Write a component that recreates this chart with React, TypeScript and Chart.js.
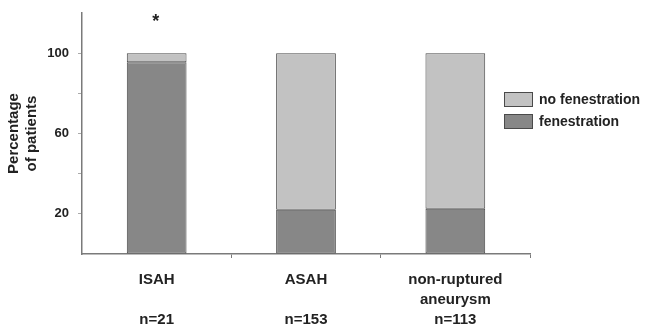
import React, { useEffect, useRef } from "react";
import { Chart, registerables } from "chart.js";

Chart.register(...registerables);

const categories: string[][] = [
  ["ISAH", "", "n=21"],
  ["ASAH", "", "n=153"],
  ["non-ruptured", "aneurysm", "n=113"],
];
const fenestration = [95.5, 22, 22.5];
const noFenestration = [4.5, 78, 77.5];
const yTickLabels = [20, 60, 100];
const yTitle = ["Percentage", "of patients"];
const significanceMark = { index: 0, value: 117, text: "*" };

const FONT = "'Liberation Sans', Arial, sans-serif";
const DARK = "#878787";
const LIGHT = "#c2c2c2";
const EDGE = "#4a4a4a";
const AXIS = "#7a7a7a";

export default function App() {
  const ref = useRef<HTMLCanvasElement | null>(null);

  useEffect(() => {
    document.body.style.margin = "0";
    const canvas = ref.current;
    if (!canvas) return;

    const overlay = {
      id: "overlay",
      afterDraw(chart: any) {
        const { ctx, scales } = chart;
        ctx.save();
        // significance marker
        const sx = scales.x.getPixelForValue(significanceMark.index);
        const sy = scales.y.getPixelForValue(significanceMark.value);
        ctx.fillStyle = "#222";
        ctx.font = `bold 18px ${FONT}`;
        ctx.textAlign = "center";
        ctx.textBaseline = "middle";
        ctx.fillText(significanceMark.text, sx - 1, sy + 3);
        // custom legend (top dataset first)
        const ds = chart.data.datasets;
        const items = [ds[1], ds[0]];
        const bx = 504;
        let by = 92;
        items.forEach((d: any) => {
          ctx.fillStyle = d.backgroundColor;
          ctx.fillRect(bx, by, 29, 15);
          ctx.strokeStyle = EDGE;
          ctx.lineWidth = 1;
          ctx.strokeRect(bx + 0.5, by + 0.5, 28, 14);
          ctx.fillStyle = "#222";
          ctx.font = `bold 14px ${FONT}`;
          ctx.textAlign = "left";
          ctx.textBaseline = "middle";
          ctx.fillText(d.label, bx + 35, by + 8);
          by += 22;
        });
        ctx.restore();
      },
    };

    const chart = new Chart(canvas, {
      type: "bar",
      data: {
        labels: categories,
        datasets: [
          {
            label: "fenestration",
            data: fenestration,
            backgroundColor: DARK,
            borderColor: EDGE,
            borderWidth: 1,
            borderSkipped: false,
          },
          {
            label: "no fenestration",
            data: noFenestration,
            backgroundColor: LIGHT,
            borderColor: EDGE,
            borderWidth: 1,
            borderSkipped: false,
          },
        ],
      },
      options: {
        animation: false,
        responsive: true,
        maintainAspectRatio: false,
        layout: { padding: { top: 13, right: 116, left: 0, bottom: 0 } },
        datasets: { bar: { categoryPercentage: 1, barPercentage: 0.4 } },
        plugins: {
          legend: { display: false },
          tooltip: { enabled: false },
        },
        scales: {
          x: {
            stacked: true,
            offset: true,
            afterFit: (s: any) => {
              s.height = 72;
            },
            border: { display: true, color: AXIS, width: 1.5 },
            grid: {
              offset: true,
              drawOnChartArea: false,
              drawTicks: true,
              tickLength: 4,
              color: (c: any) =>
                c.index === 0 || c.index === categories.length ? "rgba(0,0,0,0)" : AXIS,
            },
            ticks: {
              color: "#222",
              padding: 12,
              font: { family: FONT, size: 15, weight: "bold", lineHeight: "20px" },
              maxRotation: 0,
            },
          },
          y: {
            stacked: true,
            min: 0,
            max: 120,
            afterFit: (s: any) => {
              s.width = 82;
            },
            border: { display: true, color: AXIS, width: 1.5 },
            grid: {
              drawOnChartArea: false,
              drawTicks: true,
              tickLength: 4,
              color: (c: any) =>
                c.tick && (c.tick.value === 0 || c.tick.value === 120) ? "rgba(0,0,0,0)" : "#aaa",
            },
            ticks: {
              stepSize: 20,
              padding: 9,
              color: "#222",
              font: { family: FONT, size: 13, weight: "bold", lineHeight: "8px" },
              callback: (v: any) => (yTickLabels.includes(Number(v)) ? String(v) : ""),
            },
            title: {
              display: true,
              text: yTitle,
              color: "#222",
              padding: { top: 5, bottom: 0 },
              font: { family: FONT, size: 15, weight: "bold", lineHeight: 1.2 },
            },
          },
        },
      },
      plugins: [overlay],
    });
    return () => chart.destroy();
  }, []);

  return (
    <div style={{ position: "relative", width: 646, height: 326, background: "#fff" }}>
      <canvas ref={ref} />
    </div>
  );
}
